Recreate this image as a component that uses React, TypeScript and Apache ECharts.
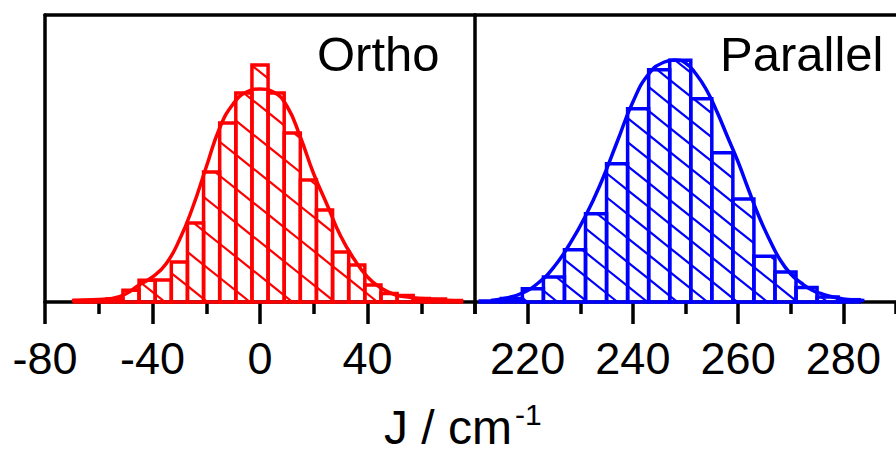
import React, { useEffect, useRef } from "react";
import * as echarts from "echarts";

// ---------- data ----------
const orthoBinCenters = [-66, -60, -54, -48, -42, -36, -30, -24, -18, -12, -6, 0, 6, 12, 18, 24, 30, 36, 42, 48, 54, 60, 66, 72];
const orthoCounts = [1.5, 2, 3, 11.7, 21.7, 22, 40, 79, 130, 179, 209, 237, 209, 169, 122, 92, 50, 37, 17, 8.5, 6.5, 3.5, 3, 1.5];
const orthoBinWidth = 6;
const orthoFitX = [-70, -60, -55, -50, -45, -40, -35, -30, -25, -20, -15, -10, -5, 0, 5, 10, 15, 20, 25, 30, 35, 40, 45, 50, 55, 60, 65, 70, 75];
const orthoFitY = [1.5, 2.5, 3.5, 8, 17, 25, 38, 62, 95, 135, 174, 198, 210, 213, 210, 196, 165, 128, 97, 66, 43, 25, 14, 7.5, 5, 3.5, 2.5, 1.5, 1];

const parallelBinCenters = [213, 217, 221, 225, 229, 233, 237, 241, 245, 249, 253, 257, 261, 265, 269, 273, 277, 281];
const parallelCounts = [1, 3.5, 13.3, 25, 52.3, 88.3, 138.3, 193.3, 232.3, 241.7, 203.3, 149.3, 103, 45.7, 30, 14.5, 5, 2.3];
const parallelBinWidth = 4;
const parallelFitX = [213, 216, 219, 222, 225, 228, 231, 234, 237, 240, 243, 246, 248, 250, 252, 254, 256, 258, 260, 262, 264, 266, 268, 270, 272, 274, 276, 278, 280, 282, 284];
const parallelFitY = [1.5, 4, 9, 19, 35, 58, 86, 120, 160, 200, 228, 240, 242, 239, 228, 212, 190, 165, 140, 112, 85, 62, 42, 28, 19, 12, 8, 5, 3, 2, 1.5];

const orthoRange = [-80, 80];
const parallelRange = [210, 290];
const yMax = 287;
const orthoMajorTicks = [-80, -40, 0, 40];
const orthoMinorTicks = [-60, -20, 20, 60, 80];
const parallelMajorTicks = [220, 240, 260, 280];
const parallelMinorTicks = [210, 230, 250, 270, 290];

const panelLabels = ["Ortho", "Parallel"];
const axisTitle = "J / cm";
const axisTitleSup = "-1";

const RED = "#ff0000";
const BLUE = "#0000ff";
const FONT = "'Liberation Sans', Arial, Helvetica, sans-serif";
const HATCH_SLOPE = 0.8;

function hatchRenderer(binWidth: number, color: string, spacing: number) {
  return (params: any, api: any) => {
    const c = api.value(0);
    const h = api.value(1);
    const pTop = api.coord([c - binWidth / 2, h]);
    const pBot = api.coord([c + binWidth / 2, 0]);
    const xa = pTop[0], xb = pBot[0], ya = pTop[1], yb = pBot[1];
    const children: any[] = [];
    const s = HATCH_SLOPE;
    const bMin = ya - s * xb;
    const bMax = yb - s * xa;
    for (let k = Math.ceil(bMin / spacing); k <= Math.floor(bMax / spacing); k++) {
      const b = k * spacing;
      const x1 = Math.max(xa, (ya - b) / s);
      const x2 = Math.min(xb, (yb - b) / s);
      if (x2 - x1 > 0.5) {
        children.push({
          type: "line",
          shape: { x1, y1: s * x1 + b, x2, y2: s * x2 + b },
          style: { stroke: color, lineWidth: 2.2 },
        });
      }
    }
    children.push({
      type: "rect",
      shape: { x: xa, y: ya, width: xb - xa, height: yb - ya },
      style: { fill: "none", stroke: color, lineWidth: 3.5 },
    });
    return { type: "group", children };
  };
}

function bottomMajor(gridIndex: number, range: number[], ticks: number[]) {
  return {
    type: "value",
    gridIndex,
    position: "bottom",
    min: range[0],
    max: range[1],
    axisLine: { show: true, onZero: false, lineStyle: { color: "#000", width: 3.5 } },
    axisTick: { show: true, inside: false, length: 22, customValues: ticks, lineStyle: { color: "#000", width: 3.5 } },
    axisLabel: {
      show: true,
      customValues: ticks,
      margin: 34,
      fontSize: 45,
      fontFamily: FONT,
      color: "#000",
    },
    splitLine: { show: false },
  };
}

function bottomMinor(gridIndex: number, range: number[], ticks: number[]) {
  return {
    type: "value",
    gridIndex,
    position: "bottom",
    offset: 0,
    min: range[0],
    max: range[1],
    axisLine: { show: false, onZero: false },
    axisTick: { show: true, inside: false, length: 12, customValues: ticks, lineStyle: { color: "#000", width: 3.5 } },
    axisLabel: { show: false },
    splitLine: { show: false },
  };
}

function topLine(gridIndex: number, range: number[]) {
  return {
    type: "value",
    gridIndex,
    position: "top",
    min: range[0],
    max: range[1],
    axisLine: { show: true, onZero: false, lineStyle: { color: "#000", width: 3.5 } },
    axisTick: { show: false },
    axisLabel: { show: false },
    splitLine: { show: false },
  };
}

function leftLine(gridIndex: number) {
  return {
    type: "value",
    gridIndex,
    position: "left",
    min: 0,
    max: yMax,
    axisLine: { show: true, onZero: false, lineStyle: { color: "#000", width: 3.5 } },
    axisTick: { show: false },
    axisLabel: { show: false },
    splitLine: { show: false },
  };
}

export default function App() {
  const ref = useRef<HTMLDivElement>(null);

  useEffect(() => {
    if (!ref.current) return;
    const chart = echarts.init(ref.current, null, { renderer: "svg" });

    const orthoBars = orthoBinCenters.map((c, i) => [c, orthoCounts[i]]);
    const parallelBars = parallelBinCenters.map((c, i) => [c, parallelCounts[i]]);
    const orthoFit = orthoFitX.map((x, i) => [x, orthoFitY[i]]);
    const parallelFit = parallelFitX.map((x, i) => [x, parallelFitY[i]]);

    chart.setOption({
      animation: false,
      backgroundColor: "#fff",
      grid: [
        { left: 45, top: 15, width: 430, height: 287 },
        { left: 475, top: 15, width: 432, height: 287 },
      ],
      xAxis: [
        bottomMajor(0, orthoRange, orthoMajorTicks),
        bottomMinor(0, orthoRange, orthoMinorTicks),
        topLine(0, orthoRange),
        bottomMajor(1, parallelRange, parallelMajorTicks),
        bottomMinor(1, parallelRange, parallelMinorTicks),
        topLine(1, parallelRange),
      ],
      yAxis: [leftLine(0), leftLine(1)],
      series: [
        {
          type: "custom",
          name: "Ortho histogram",
          xAxisIndex: 0,
          yAxisIndex: 0,
          renderItem: hatchRenderer(orthoBinWidth, RED, 34),
          data: orthoBars,
          clip: false,
        },
        {
          type: "line",
          name: "Ortho fit",
          xAxisIndex: 0,
          yAxisIndex: 0,
          data: orthoFit,
          smooth: true,
          showSymbol: false,
          lineStyle: { color: RED, width: 3.5 },
          z: 3,
        },
        {
          type: "custom",
          name: "Parallel histogram",
          xAxisIndex: 3,
          yAxisIndex: 1,
          renderItem: hatchRenderer(parallelBinWidth, BLUE, 24),
          data: parallelBars,
          clip: false,
        },
        {
          type: "line",
          name: "Parallel fit",
          xAxisIndex: 3,
          yAxisIndex: 1,
          data: parallelFit,
          smooth: true,
          showSymbol: false,
          lineStyle: { color: BLUE, width: 3.5 },
          z: 3,
        },
      ],
      graphic: [
        {
          type: "text",
          x: 317,
          y: 54,
          style: { text: panelLabels[0], fontSize: 49, fontFamily: FONT, fill: "#000", align: "left", verticalAlign: "middle" },
        },
        {
          type: "text",
          x: 720,
          y: 54,
          style: { text: panelLabels[1], fontSize: 49, fontFamily: FONT, fill: "#000", align: "left", verticalAlign: "middle" },
        },
        {
          type: "text",
          x: 384,
          y: 427,
          style: { text: axisTitle, fontSize: 48, lineHeight: 40, fontFamily: FONT, fill: "#000", align: "left", verticalAlign: "middle" },
        },
        {
          type: "text",
          x: 515,
          y: 414,
          style: { text: axisTitleSup, fontSize: 30, lineHeight: 26, fontFamily: FONT, fill: "#000", align: "left", verticalAlign: "middle" },
        },
      ],
    });

    return () => chart.dispose();
  }, []);

  return (
    <div
      ref={ref}
      style={{ position: "absolute", left: 0, top: 0, width: 896, height: 454, background: "#fff" }}
    />
  );
}
